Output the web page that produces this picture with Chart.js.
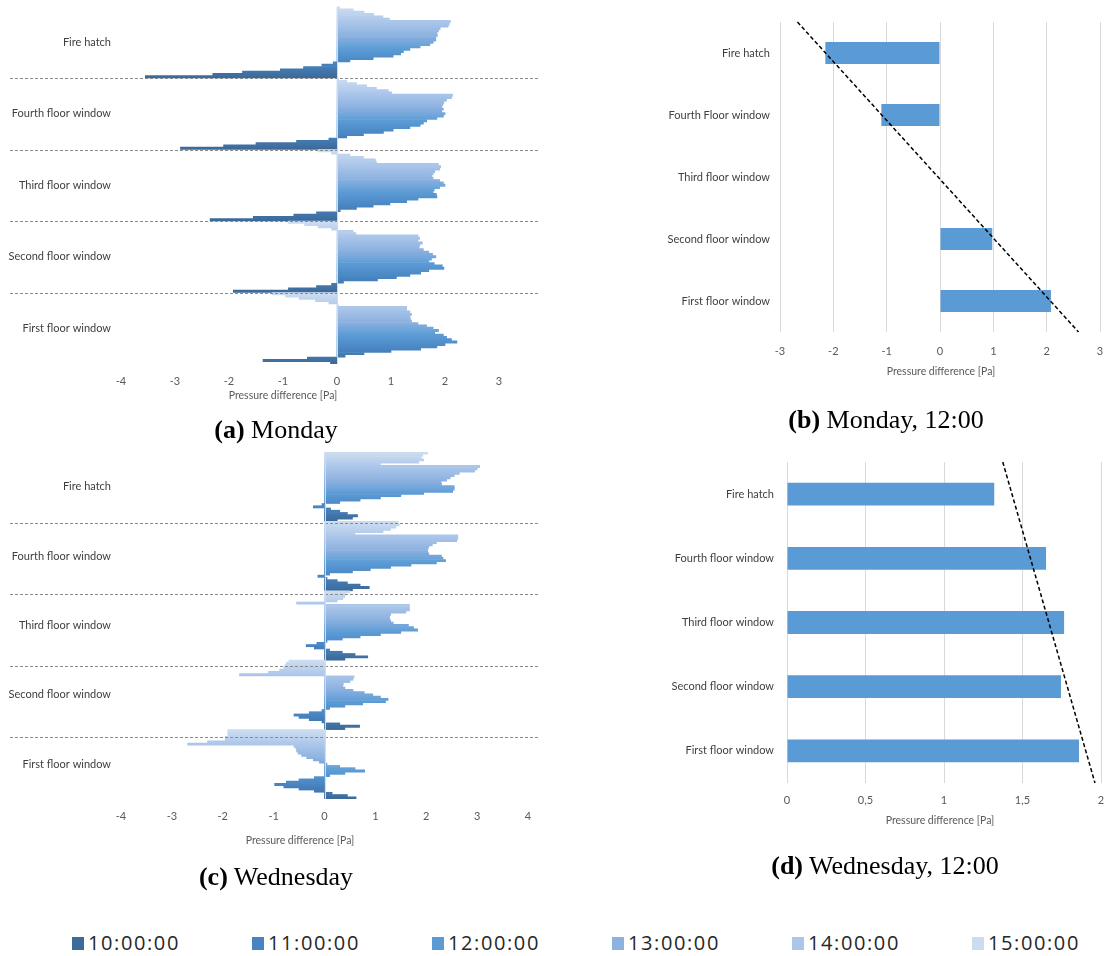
<!DOCTYPE html>
<html>
<head>
<meta charset="utf-8">
<script src="https://cdn.jsdelivr.net/npm/chart.js@4.4.0/dist/chart.umd.min.js"></script>
<style>
  html, body { margin: 0; padding: 0; background: #ffffff; }
  body { position: relative; width: 1105px; height: 956px; overflow: hidden; font-family: Lato, "Open Sans", sans-serif; }
  canvas { position: absolute; }
  .cap { position: absolute; font-family: "Liberation Serif", "DejaVu Serif", serif; font-size: 26px; line-height: 26px; color: #000; white-space: nowrap; transform: translateX(-50%); }
  .axt { position: absolute; font-family: Lato, sans-serif; font-size: 10.5px; line-height: 12px; color: #595959; white-space: nowrap; transform: translateX(-50%); }
  .lg-box { position: absolute; width: 12px; height: 13px; }
  .lg-txt { position: absolute; font-family: "Open Sans", sans-serif; font-size: 20px; line-height: 22px; color: #262626; letter-spacing: 1.6px; white-space: nowrap; }
</style>
</head>
<body>
<canvas id="cA" width="550" height="400" style="left:0px;top:0px"></canvas>
<canvas id="cB" width="545" height="440" style="left:560px;top:0px"></canvas>
<canvas id="cC" width="550" height="400" style="left:0px;top:445px"></canvas>
<canvas id="cD" width="545" height="440" style="left:560px;top:445px"></canvas>

<div class="axt" style="left:283px;top:389px">Pressure difference [Pa]</div>
<div class="axt" style="left:941px;top:365px">Pressure difference [Pa]</div>
<div class="axt" style="left:300px;top:834px">Pressure difference [Pa]</div>
<div class="axt" style="left:940px;top:814px">Pressure difference [Pa]</div>

<div class="cap" style="left:276px;top:417px"><b>(a)</b> Monday</div>
<div class="cap" style="left:886px;top:407px"><b>(b)</b> Monday, 12:00</div>
<div class="cap" style="left:276px;top:864px"><b>(c)</b> Wednesday</div>
<div class="cap" style="left:885px;top:853px"><b>(d)</b> Wednesday, 12:00</div>

<div id="legend"></div>

<script>
// ---- categories ----
const places = ['Fire hatch', 'Fourth floor window', 'Third floor window', 'Second floor window', 'First floor window'];
const placesMondayNoon = ['Fire hatch', 'Fourth Floor window', 'Third floor window', 'Second floor window', 'First floor window'];

// measurement times, 10-minute steps
const times = ['10:00', '10:10', '10:20', '10:30', '10:40', '10:50',
               '11:00', '11:10', '11:20', '11:30', '11:40', '11:50',
               '12:00', '12:10', '12:20', '12:30', '12:40', '12:50',
               '13:00', '13:10', '13:20', '13:30', '13:40', '13:50',
               '14:00', '14:10', '14:20', '14:30', '14:40', '14:50',
               '15:00'];
const legendTimes = ['10:00:00', '11:00:00', '12:00:00', '13:00:00', '14:00:00', '15:00:00'];

// ---- Monday, pressure difference [Pa], 10:00 -> 15:00 ----
const monFireHatch = [-3.55, -2.3, -1.75, -1.05, -0.62, -0.28, -0.07, 0.24, 0.67, 1.04, 1.18, 1.23, 1.35, 1.54, 1.72, 1.78,
                      1.83, 1.83, 1.86, 1.85, 1.88, 1.91, 2.06, 2.08, 2.1, 0.97, 0.85, 0.68, 0.5, 0.3, 0.05];
const monFourth    = [-2.9, -2.1, -1.5, -0.75, -0.15, 0.18, 0.49, 0.86, 1.04, 1.35, 1.54, 1.6, 1.66, 1.85, 1.97, 2.0,
                      1.94, 1.97, 1.94, 1.96, 1.98, 2.03, 2.12, 2.14, 1.01, 0.95, 0.73, 0.55, 0.36, 0.18, 0.03];
const monThird     = [-2.35, -1.55, -0.8, -0.38, 0.06, 0.36, 0.67, 0.98, 1.29, 1.5, 1.85, 1.84, 1.78, 1.8, 1.9, 2.0,
                      1.97, 1.9, 1.78, 1.75, 1.78, 1.81, 1.9, 1.92, 1.88, 0.73, 0.71, 0.49, 0.24, -0.1, -0.35];
const monSecond    = [-1.92, -0.9, -0.38, -0.1, 0.12, 0.75, 1.1, 1.35, 1.55, 1.7, 1.98, 1.95, 1.8, 1.7, 1.75, 1.83,
                      1.77, 1.7, 1.6, 1.52, 1.53, 1.58, 1.5, 1.53, 1.5, 0.35, 0.3, -0.1, -0.35, -0.6, -0.9];
const monFirst     = [-0.12, -1.37, -0.55, 0.15, 0.5, 1.0, 1.55, 1.85, 2.0, 2.22, 2.12, 2.03, 1.97, 1.81, 1.88, 1.78,
                      1.66, 1.5, 1.38, 1.36, 1.35, 1.38, 1.35, 1.29, 1.29, 0.02, -0.15, -0.4, -0.7, -0.95, -1.2];

// ---- Wednesday, pressure difference [Pa], 10:00 -> 15:00 ----
const wedFireHatch = [0.25, 0.55, 0.65, 0.45, 0.3, 0.12, -0.22, -0.05, 0.3, 0.7, 1.1, 1.5, 1.95, 2.52, 2.55, 2.55,
                      2.3, 2.29, 2.4, 2.47, 2.55, 2.65, 2.95, 3.0, 3.05, 1.1, 1.85, 1.95, 1.9, 1.93, 2.03];
const wedFourth    = [0.55, 0.88, 0.7, 0.45, 0.25, 0.05, -0.13, 0.1, 0.55, 0.9, 1.3, 1.7, 2.2, 2.38, 2.33, 2.3,
                      2.05, 2.03, 2.03, 2.05, 2.12, 2.2, 2.6, 2.62, 2.62, 0.6, 1.15, 1.3, 1.4, 1.47, 1.45];
const wedThird     = [0.4, 0.85, 0.6, 0.35, 0.1, -0.2, -0.36, -0.15, 0.05, 0.35, 0.7, 1.1, 1.5, 1.83, 1.75, 1.65,
                      1.35, 1.3, 1.28, 1.28, 1.3, 1.6, 1.67, 1.67, 1.67, -0.55, 0.25, 0.36, 0.4, 0.42, 0.5];
const wedSecond    = [0.4, 0.69, 0.3, -0.05, -0.3, -0.5, -0.6, -0.3, -0.05, 0.1, 0.4, 0.75, 1.2, 1.25, 1.1, 0.95,
                      0.78, 0.56, 0.4, 0.36, 0.37, 0.5, 0.56, 0.58, -1.67, -1.1, -0.88, -0.8, -0.78, -0.75, -0.7];
const wedFirst     = [0.62, 0.45, 0.15, -0.2, -0.5, -0.8, -0.98, -0.75, -0.5, -0.2, 0.1, 0.4, 0.79, 0.6, 0.3, 0.05,
                      -0.1, -0.22, -0.35, -0.45, -0.52, -0.55, -0.56, -0.6, -2.69, -2.3, -1.95, -1.95, -1.9, -1.9, -1.9];

// ---- 12:00 snapshots ----
const mondayNoon    = [-2.15, -1.1, 0, 0.98, 2.08];
const wednesdayNoon = [1.32, 1.65, 1.765, 1.745, 1.86];

// ---- shades: one per full hour, blended for the steps between ----
const hourShades = ['#3d6b99', '#4884c2', '#5b9bd5', '#8db2e0', '#abc6ea', '#cbdbf0'];

function hexToRgb(h) {
  const n = parseInt(h.slice(1), 16);
  return [(n >> 16) & 255, (n >> 8) & 255, n & 255];
}
function shadeFor(stepIndex) {
  const t = stepIndex / 6;
  const a = Math.min(Math.floor(t), hourShades.length - 2);
  const f = t - a;
  const c0 = hexToRgb(hourShades[a]), c1 = hexToRgb(hourShades[a + 1]);
  const c = c0.map((v, k) => Math.round(v + (c1[k] - v) * f));
  return 'rgb(' + c.join(',') + ')';
}

// one dataset per time step; latest time first so it sits at the top of each band
function timeDatasets(seriesByPlace) {
  const sets = [];
  for (let j = times.length - 1; j >= 0; j--) {
    sets.push({
      label: times[j],
      data: seriesByPlace.map(s => s[j]),
      backgroundColor: shadeFor(j),
      borderWidth: 0,
      categoryPercentage: 1.0,
      barPercentage: 1.0
    });
  }
  return sets;
}

// dashed separators between the location bands
const bandLines = {
  id: 'bandLines',
  afterDatasetsDraw(chart, args, opts) {
    const y = chart.scales.y, ctx = chart.ctx;
    ctx.save();
    ctx.strokeStyle = '#8a8a8a';
    ctx.lineWidth = 1;
    ctx.setLineDash([3, 2]);
    for (let i = 0; i < y.ticks.length - 1; i++) {
      const py = Math.round(y.getPixelForValue(i + 0.5 + (opts.shift || 0) * (i + 1))) + 0.5;
      ctx.beginPath();
      ctx.moveTo(opts.x0, py);
      ctx.lineTo(opts.x1, py);
      ctx.stroke();
    }
    ctx.restore();
  }
};

// vertical axis line at zero pressure difference
const zeroLine = {
  id: 'zeroLine',
  afterDatasetsDraw(chart) {
    const x = chart.scales.x, a = chart.chartArea, ctx = chart.ctx;
    const px = Math.round(x.getPixelForValue(0)) + 0.5;
    ctx.save();
    ctx.strokeStyle = '#d9d9d9';
    ctx.lineWidth = 1;
    ctx.beginPath();
    ctx.moveTo(px, a.top);
    ctx.lineTo(px, a.bottom);
    ctx.stroke();
    ctx.restore();
  }
};

// least-squares trend of the bar values against location order
const trendLine = {
  id: 'trendLine',
  afterDatasetsDraw(chart) {
    const vals = chart.data.datasets[0].data;
    const n = vals.length;
    let mi = 0, mv = 0;
    vals.forEach((v, i) => { mi += i; mv += v; });
    mi /= n; mv /= n;
    let sxy = 0, sxx = 0;
    vals.forEach((v, i) => { sxy += (i - mi) * (v - mv); sxx += (i - mi) * (i - mi); });
    const slope = sxy / sxx;
    const at = i => mv + slope * (i - mi);
    const xs = chart.scales.x, ys = chart.scales.y, ctx = chart.ctx;
    ctx.save();
    ctx.strokeStyle = '#000000';
    ctx.lineWidth = 1.5;
    ctx.setLineDash([4, 2.5]);
    ctx.beginPath();
    ctx.moveTo(xs.getPixelForValue(at(-0.5)), ys.getPixelForValue(-0.5));
    ctx.lineTo(xs.getPixelForValue(at(n - 0.5)), ys.getPixelForValue(n - 0.5));
    ctx.stroke();
    ctx.restore();
  }
};

const tickFont = { family: 'Lato', size: 11 };
const catFont = { family: 'Lato', size: 11 };

// fixed axis boxes so the plot areas line up with the page layout
const fixX = h => s => { s.height = h; s.paddingLeft = 0; s.paddingRight = 0; };
const fixY = w => s => { s.width = w; s.paddingTop = 0; s.paddingBottom = 0; };

function timeChart(id, series, xmin, xmax, pad, axisWidth, lineOpts) {
  return new Chart(document.getElementById(id), {
    type: 'bar',
    data: { labels: places, datasets: timeDatasets(series) },
    options: {
      indexAxis: 'y',
      responsive: false,
      animation: false,
      events: [],
      layout: { padding: pad },
      plugins: { legend: { display: false }, tooltip: { enabled: false }, bandLines: lineOpts },
      scales: {
        x: {
          min: xmin, max: xmax,
          ticks: { stepSize: 1, padding: 10.4, color: '#595959', font: tickFont },
          grid: { display: false, drawTicks: false },
          border: { display: false },
          afterFit: fixX(30)
        },
        y: {
          ticks: { padding: 10, color: '#404040', font: catFont },
          grid: { display: false, drawTicks: false },
          border: { display: false },
          afterFit: fixY(axisWidth)
        }
      }
    },
    plugins: [bandLines, zeroLine]
  });
}

function noonChart(id, labels, values, xmin, xmax, step, pad, axisWidth, labelGap, labelPad, fmt) {
  return new Chart(document.getElementById(id), {
    type: 'bar',
    data: {
      labels: labels,
      datasets: [{ label: '12:00', data: values, backgroundColor: '#5b9bd5', borderWidth: 0,
                   categoryPercentage: 1.0, barPercentage: 0.355 }]
    },
    options: {
      indexAxis: 'y',
      responsive: false,
      animation: false,
      events: [],
      layout: { padding: pad },
      plugins: { legend: { display: false }, tooltip: { enabled: false } },
      scales: {
        x: {
          min: xmin, max: xmax,
          ticks: { stepSize: step, padding: labelPad, color: '#595959', font: tickFont, callback: fmt },
          grid: { color: '#d9d9d9', drawTicks: false },
          border: { display: false },
          afterFit: fixX(30)
        },
        y: {
          ticks: { padding: labelGap, color: '#404040', font: catFont },
          grid: { display: false, drawTicks: false },
          border: { display: false },
          afterFit: fixY(axisWidth)
        }
      }
    },
    plugins: [trendLine]
  });
}

const commaDecimal = v => String(Math.round(v * 10) / 10).replace('.', ',');

timeChart('cA', [monFireHatch, monFourth, monThird, monSecond, monFirst], -4, 3,
          { top: 6.5, right: 51, bottom: 6, left: 0 }, 121, { x0: 10, x1: 540 });
timeChart('cC', [wedFireHatch, wedFourth, wedThird, wedSecond, wedFirst], -4, 4,
          { top: 7, right: 22, bottom: 16, left: 0 }, 121, { x0: 10, x1: 540, shift: 0.026 });

noonChart('cB', placesMondayNoon, mondayNoon, -3, 3, 1,
          { top: 22, right: 5, bottom: 78, left: 0 }, 220, 10, 12.4, v => String(v));
noonChart('cD', places, wednesdayNoon, 0, 2, 0.5,
          { top: 17, right: 4, bottom: 72, left: 0 }, 227, 13, 10.4, commaDecimal);

// shared legend for the time shades
const legend = document.getElementById('legend');
legendTimes.forEach((t, i) => {
  const box = document.createElement('div');
  box.className = 'lg-box';
  box.style.left = (72 + 180 * i) + 'px';
  box.style.top = '937px';
  box.style.background = hourShades[i];
  legend.appendChild(box);
  const txt = document.createElement('div');
  txt.className = 'lg-txt';
  txt.style.left = (88 + 180 * i) + 'px';
  txt.style.top = '932px';
  txt.textContent = t;
  legend.appendChild(txt);
});
</script>
</body>
</html>
